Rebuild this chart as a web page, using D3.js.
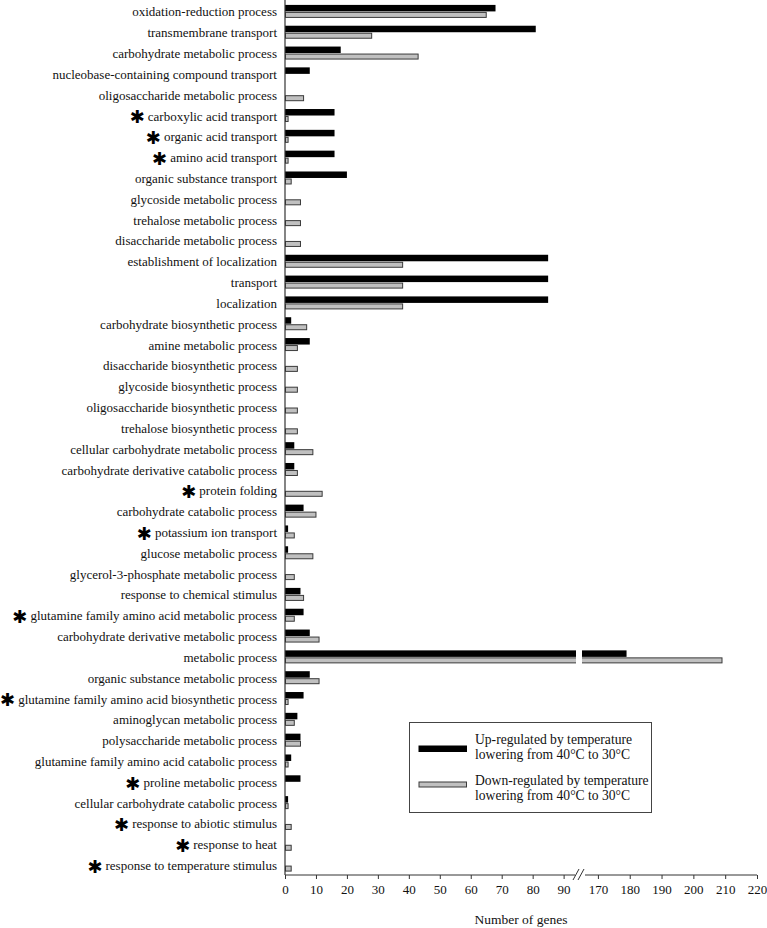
<!DOCTYPE html>
<html>
<head>
<meta charset="utf-8">
<script src="https://cdn.jsdelivr.net/npm/d3@7"></script>
<style>
  body { margin: 0; background: #fff; }
  svg { display: block; font-family: "Liberation Serif", "Times New Roman", serif; }
</style>
</head>
<body>
<div class="go-chart"></div>
<script>
var categories = [
  "oxidation-reduction process", "transmembrane transport", "carbohydrate metabolic process",
  "nucleobase-containing compound transport", "oligosaccharide metabolic process",
  "carboxylic acid transport", "organic acid transport", "amino acid transport",
  "organic substance transport", "glycoside metabolic process", "trehalose metabolic process",
  "disaccharide metabolic process", "establishment of localization", "transport", "localization",
  "carbohydrate biosynthetic process", "amine metabolic process", "disaccharide biosynthetic process",
  "glycoside biosynthetic process", "oligosaccharide biosynthetic process",
  "trehalose biosynthetic process", "cellular carbohydrate metabolic process",
  "carbohydrate derivative catabolic process", "protein folding", "carbohydrate catabolic process",
  "potassium ion transport", "glucose metabolic process", "glycerol-3-phosphate metabolic process",
  "response to chemical stimulus", "glutamine family amino acid metabolic process",
  "carbohydrate derivative metabolic process", "metabolic process",
  "organic substance metabolic process", "glutamine family amino acid biosynthetic process",
  "aminoglycan metabolic process", "polysaccharide metabolic process",
  "glutamine family amino acid catabolic process", "proline metabolic process",
  "cellular carbohydrate catabolic process", "response to abiotic stimulus",
  "response to heat", "response to temperature stimulus"
];

// categories marked with an asterisk
var starred = [
  "carboxylic acid transport", "organic acid transport", "amino acid transport",
  "protein folding", "potassium ion transport", "glutamine family amino acid metabolic process",
  "glutamine family amino acid biosynthetic process", "proline metabolic process",
  "response to abiotic stimulus", "response to heat", "response to temperature stimulus"
];

var upRegulated = [68, 81, 18, 8, 0, 16, 16, 16, 20, 0, 0, 0, 85, 85, 85, 2, 8, 0, 0, 0, 0, 3, 3, 0, 6, 1, 1, 0, 5, 6, 8, 179, 8, 6, 4, 5, 2, 5, 1, 0, 0, 0];
var downRegulated = [65, 28, 43, 0, 6, 1, 1, 1, 2, 5, 5, 5, 38, 38, 38, 7, 4, 4, 4, 4, 4, 9, 4, 12, 10, 3, 9, 3, 6, 3, 11, 209, 11, 1, 3, 5, 1, 0, 1, 2, 2, 2];

var tickValues = [0, 10, 20, 30, 40, 50, 60, 70, 80, 90, 170, 180, 190, 200, 210, 220];
var seriesNames = ["Up-regulated by temperature\nlowering from 40°C to 30°C",
                   "Down-regulated by temperature\nlowering from 40°C to 30°C"];

var W = 767, H = 928;
var margin = {top: 0.5, left: 285, right: 10, axisY: 875};
var breakLo = 94, breakHi = 165;

var svg = d3.select(".go-chart").append("svg")
    .attr("width", W)
    .attr("height", H);

// broken x scale: 0-94 on the left, 165-220 on the right
var x = d3.scaleLinear()
    .domain([0, breakLo, breakHi, 220])
    .range([margin.left, 576, 582, 757]);

var y = d3.scaleBand()
    .domain(categories)
    .range([margin.top, margin.axisY]);

var rows = categories.map(function(c, i) {
  return {cat: c, up: upRegulated[i], down: downRegulated[i], star: starred.indexOf(c) >= 0};
});

var g = svg.append("g");

// up-regulated (black)
g.selectAll(".up")
    .data(rows.filter(function(d) { return d.up > 0; }))
  .enter().append("rect")
    .attr("class", "up")
    .attr("x", x(0))
    .attr("y", function(d) { return y(d.cat) + y.bandwidth()/2 - 6; })
    .attr("width", function(d) { return x(d.up) - x(0); })
    .attr("height", 6.5)
    .style("fill", "#000");

// down-regulated (grey)
g.selectAll(".down")
    .data(rows.filter(function(d) { return d.down > 0; }))
  .enter().append("rect")
    .attr("class", "down")
    .attr("x", x(0) + 0.5)
    .attr("y", function(d) { return y(d.cat) + y.bandwidth()/2 + 1.5; })
    .attr("width", function(d) { return x(d.down) - x(0) - 0.5; })
    .attr("height", 5)
    .style("fill", "#c0c0c0")
    .style("stroke", "#3a3a3a")
    .style("stroke-width", 1);

// white gap through bars that cross the break
g.selectAll(".gap")
    .data(rows.filter(function(d) { return d.up > breakLo || d.down > breakLo; }))
  .enter().append("rect")
    .attr("x", x(breakLo))
    .attr("y", function(d) { return y(d.cat) + y.bandwidth()/2 - 7; })
    .attr("width", x(breakHi) - x(breakLo))
    .attr("height", 15)
    .style("fill", "#fff");

// category labels
var labels = g.selectAll(".lab")
    .data(rows)
  .enter().append("text")
    .attr("class", "lab")
    .attr("x", margin.left - 8)
    .attr("y", function(d) { return y(d.cat) + y.bandwidth()/2 + 1; })
    .attr("dy", "0.35em")
    .style("text-anchor", "end")
    .style("font-size", "13px")
    .style("fill", "#111")
    .text(function(d) { return d.cat; });

labels.each(function(d) {
  if (!d.star) return;
  var w = this.getComputedTextLength();
  g.append("text")
      .attr("x", margin.left - 8 - w - 3)
      .attr("y", y(d.cat) + y.bandwidth()/2 + 1)
      .attr("dy", "0.4em")
      .style("text-anchor", "end")
      .style("font-family", "DejaVu Sans")
      .style("font-size", "18px")
      .style("fill", "#000")
      .text("\u2731");
});

// y axis line
svg.append("line")
    .attr("x1", margin.left).attr("x2", margin.left)
    .attr("y1", 0).attr("y2", margin.axisY)
    .style("stroke", "#333").style("stroke-width", 1.2);

// x axis
var xAxis = d3.axisBottom(x)
    .tickValues(tickValues)
    .tickSize(4)
    .tickPadding(6)
    .tickFormat(d3.format("d"));

var ax = svg.append("g")
    .attr("transform", "translate(0," + margin.axisY + ")")
    .call(xAxis);
ax.select(".domain").remove();
ax.selectAll(".tick line").style("stroke", "#333");
ax.selectAll(".tick text")
    .style("font-family", "Liberation Serif")
    .style("font-size", "13px")
    .style("fill", "#111");

// axis line in two pieces with break marks
ax.append("line")
    .attr("x1", x(0)).attr("x2", x(breakLo) - 1)
    .style("stroke", "#333");
ax.append("line")
    .attr("x1", x(breakHi) + 3).attr("x2", x(220))
    .style("stroke", "#333");
[0, 5].forEach(function(off) {
  ax.append("line")
      .attr("x1", x(breakLo) - 3 + off).attr("y1", 5)
      .attr("x2", x(breakLo) + 3 + off).attr("y2", -6)
      .style("stroke", "#333");
});

svg.append("text")
    .attr("x", (x(0) + x(220)) / 2)
    .attr("y", 924)
    .style("text-anchor", "middle")
    .style("font-size", "13.5px")
    .style("fill", "#111")
    .text("Number of genes");

// legend
var legend = svg.append("g")
    .attr("transform", "translate(409.5,722.5)");
legend.append("rect")
    .attr("width", 242)
    .attr("height", 90)
    .style("fill", "#fff")
    .style("stroke", "#444");

var leg = legend.selectAll(".leg")
    .data(seriesNames)
  .enter().append("g")
    .attr("transform", function(d, i) { return "translate(0," + (i * 41) + ")"; });

leg.append("rect")
    .attr("x", function(d, i) { return i ? 9.5 : 9; })
    .attr("y", function(d, i) { return i ? 18.5 : 23; })
    .attr("width", function(d, i) { return i ? 47.5 : 48.5; })
    .attr("height", function(d, i) { return i ? 5 : 6.5; })
    .style("fill", function(d, i) { return i ? "#c0c0c0" : "#000"; })
    .style("stroke", function(d, i) { return i ? "#3a3a3a" : "none"; });

leg.append("text")
    .attr("y", 21)
    .style("font-size", "13.6px")
    .style("fill", "#111")
    .selectAll("tspan")
    .data(function(d) { return d.split("\n"); })
  .enter().append("tspan")
    .attr("x", 65.5)
    .attr("dy", function(d, i) { return i ? 15.6 : 0; })
    .text(function(d) { return d; });
</script>
</body>
</html>
